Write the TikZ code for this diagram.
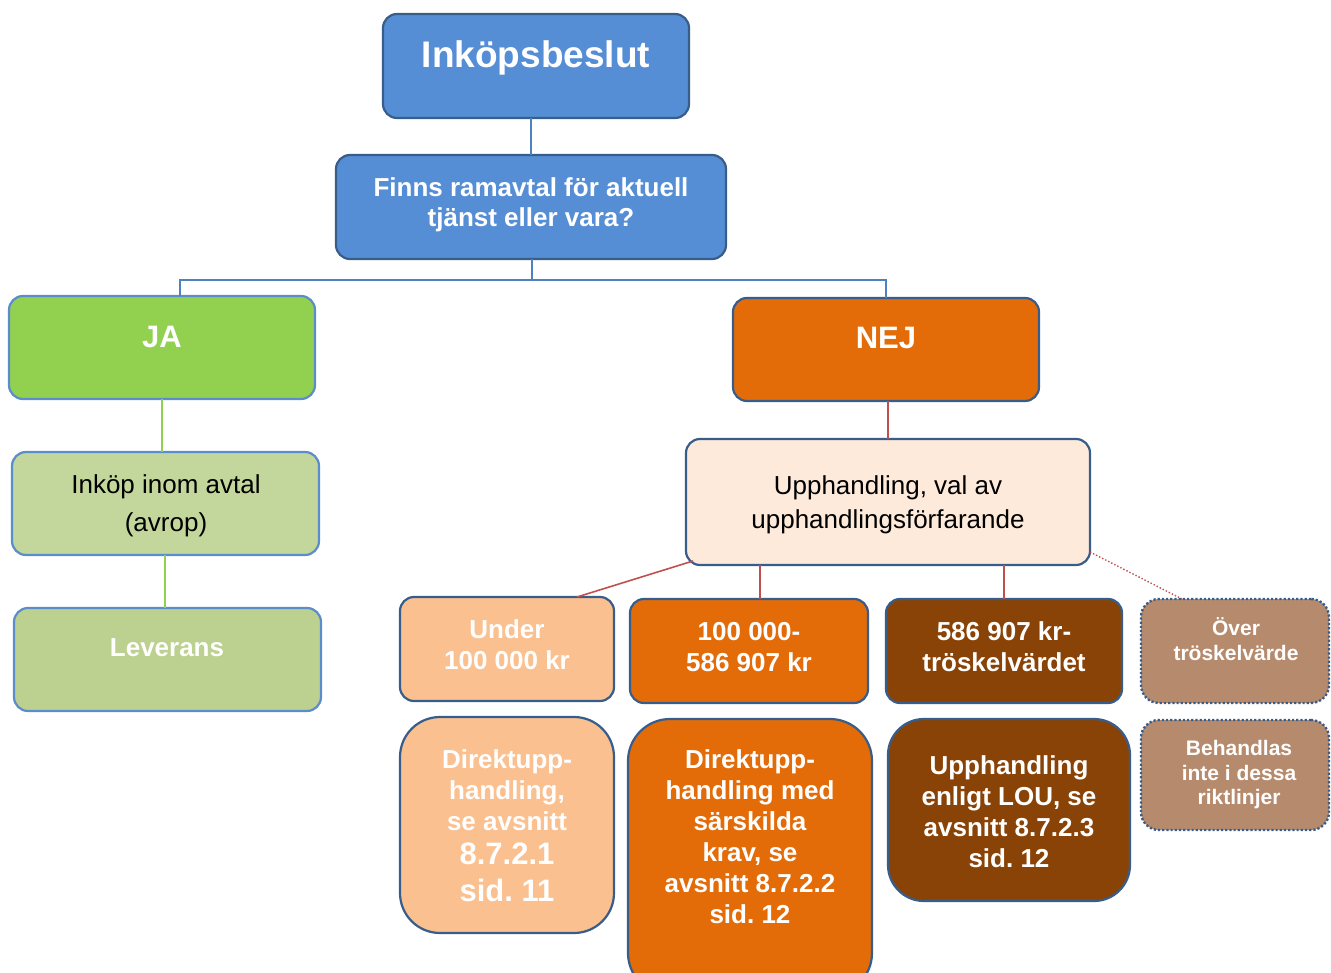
\documentclass[tikz,border=0pt]{standalone}
\usepackage{fontspec}
\setmainfont{Liberation Sans}
\definecolor{blueF}{HTML}{558ED5}
\definecolor{blueB}{HTML}{385D8A}
\definecolor{lblueB}{HTML}{5B8CCB}
\definecolor{conBlue}{HTML}{4F81BD}
\definecolor{greenF}{HTML}{92D050}
\definecolor{lgreenF}{HTML}{C3D69B}
\definecolor{levF}{HTML}{BCD18F}
\definecolor{orangeF}{HTML}{E36C09}
\definecolor{peachF}{HTML}{FAC090}
\definecolor{creamF}{HTML}{FDEADA}
\definecolor{brownF}{HTML}{8A4306}
\definecolor{tanF}{HTML}{B68B6D}
\definecolor{redL}{HTML}{C0504D}
\newcommand\myfs[2]{\fontsize{#1}{#2}\selectfont}
\frenchspacing
\begin{document}
\begin{tikzpicture}[x=1pt,y=-1pt,
  box/.style={draw=blueB, line width=2.2pt, rounded corners=14pt, inner sep=0pt, outer sep=0pt},
  gbox/.style={box, draw=lblueB},
  dbox/.style={box, dotted, line width=2.4pt, rounded corners=18pt},
  tw/.style={text=white, font=\bfseries, align=center, inner sep=0pt},
  tb/.style={text=black, align=center, inner sep=0pt},
  con/.style={draw=conBlue, line width=1.4pt},
  gcon/.style={draw=greenF, line width=1.6pt},
  rcon/.style={draw=redL, line width=1.6pt}]
\useasboundingbox (0,0) rectangle (1331,973);

% boxes
\node[box, fill=blueF, minimum width=306pt, minimum height=104pt] (ink) at (536,66) {};
\node[box, fill=blueF, minimum width=390pt, minimum height=104pt] (finns) at (531,207) {};
\node[gbox, fill=greenF, minimum width=306pt, minimum height=103pt] (ja) at (162,347.5) {};
\node[box, fill=orangeF, minimum width=306pt, minimum height=103pt] (nej) at (886,349.5) {};
\node[gbox, fill=lgreenF, minimum width=307pt, minimum height=103pt] (inkop) at (165.5,503.5) {};
\node[gbox, fill=levF, minimum width=307pt, minimum height=103pt] (lev) at (167.5,659.5) {};
\node[box, fill=creamF, minimum width=404pt, minimum height=126pt] (upph) at (888,502) {};
\node[box, fill=peachF, minimum width=214pt, minimum height=104pt] (under) at (507,649) {};
\node[box, fill=orangeF, minimum width=238pt, minimum height=104pt] (mid) at (749,651) {};
\node[box, fill=brownF, minimum width=236pt, minimum height=104pt] (high) at (1004,651) {};
\node[dbox, fill=tanF, minimum width=188pt, minimum height=104pt] (over) at (1235,651) {};
\node[box, fill=peachF, rounded corners=40pt, minimum width=214pt, minimum height=216pt] (d1) at (507,825) {};
\node[box, fill=orangeF, rounded corners=42pt, minimum width=244pt, minimum height=276pt] (d2) at (750,857) {};
\node[box, fill=brownF, rounded corners=36pt, minimum width=242pt, minimum height=182pt] (d3) at (1009,810) {};
\node[dbox, fill=tanF, minimum width=188pt, minimum height=110pt] (d4) at (1235,775) {};

% texts
\node[tw, font=\bfseries\myfs{37}{40}] (inkT) at (536,58) {Inköpsbeslut};
\node[tw, font=\bfseries\myfs{26}{30}] (finnsT) at (531,205) {Finns ramavtal för aktuell\\tjänst eller vara?};
\node[tw, font=\bfseries\myfs{31}{34}] (jaT) at (162,337) {JA};
\node[tw, font=\bfseries\myfs{31}{34}] (nejT) at (886,338) {NEJ};
\node[tb, font=\myfs{26}{38}] (inkopT) at (166,506) {Inköp inom avtal\\(avrop)};
\node[tw, font=\bfseries\myfs{26}{30}] (levT) at (167,648) {Leverans};
\node[tb, font=\myfs{26}{34}] (upphT) at (888,505) {Upphandling, val av\\upphandlingsförfarande};
\node[tw, font=\bfseries\myfs{26}{31}] (underT) at (507,645) {Under\\100 000 kr};
\node[tw, font=\bfseries\myfs{26}{31}] (midT) at (749,647) {100 000-\\586 907 kr};
\node[tw, font=\bfseries\myfs{26}{31}] (highT) at (1004,647) {586 907 kr-\\tröskelvärdet};
\node[tw, font=\bfseries\myfs{21}{25}] (overT) at (1236,639) {Över\\tröskelvärde};
\node[tw, font=\bfseries\myfs{26}{31}] (d1T) at (507,826) {Direktupp-\\handling,\\se avsnitt\\[3pt]{\myfs{31}{31}8.7.2.1}\\[6pt]{\myfs{31}{31}sid. 11}};
\node[tw, font=\bfseries\myfs{26}{31}] (d2T) at (750,837) {Direktupp-\\handling med\\särskilda\\krav, se\\avsnitt 8.7.2.2\\sid. 12};
\node[tw, font=\bfseries\myfs{26}{31}] (d3T) at (1009,812) {Upphandling\\enligt LOU, se\\avsnitt 8.7.2.3\\sid. 12};
\node[tw, font=\bfseries\myfs{21}{24.5}] (d4T) at (1239,775) {Behandlas\\inte i dessa\\riktlinjer};

% connectors
\draw[con] (finns.north) -- (finns.north |- ink.south);
\coordinate (bar) at (532,280);
\coordinate (jaTop) at ([xshift=18pt]ja.north);
\coordinate (nejTop) at (nej.north);
\draw[con] (finns.south -| bar) -- (bar);
\draw[con] (jaTop) |- (bar) -| (nejTop);
\draw[gcon] (ja.south) -- (ja.south |- inkop.north);
\draw[gcon] ([xshift=-0.5pt]inkop.south) -- ([xshift=-0.5pt]inkop.south |- lev.north);
\draw[rcon] (upph.north) -- (upph.north |- nej.south);
\draw[rcon] ([xshift=7pt,yshift=4pt]upph.south west) -- ([xshift=-37pt]under.north east);
\coordinate (m1) at ([xshift=11pt]mid.north);
\draw[rcon] (m1) -- (m1 |- upph.south);
\draw[rcon] (high.north) -- (high.north |- upph.south);
\draw[redL, line width=1.4pt, dotted] ([yshift=13pt]upph.south east) -- ([xshift=-53pt]over.north);
\end{tikzpicture}
\end{document}
